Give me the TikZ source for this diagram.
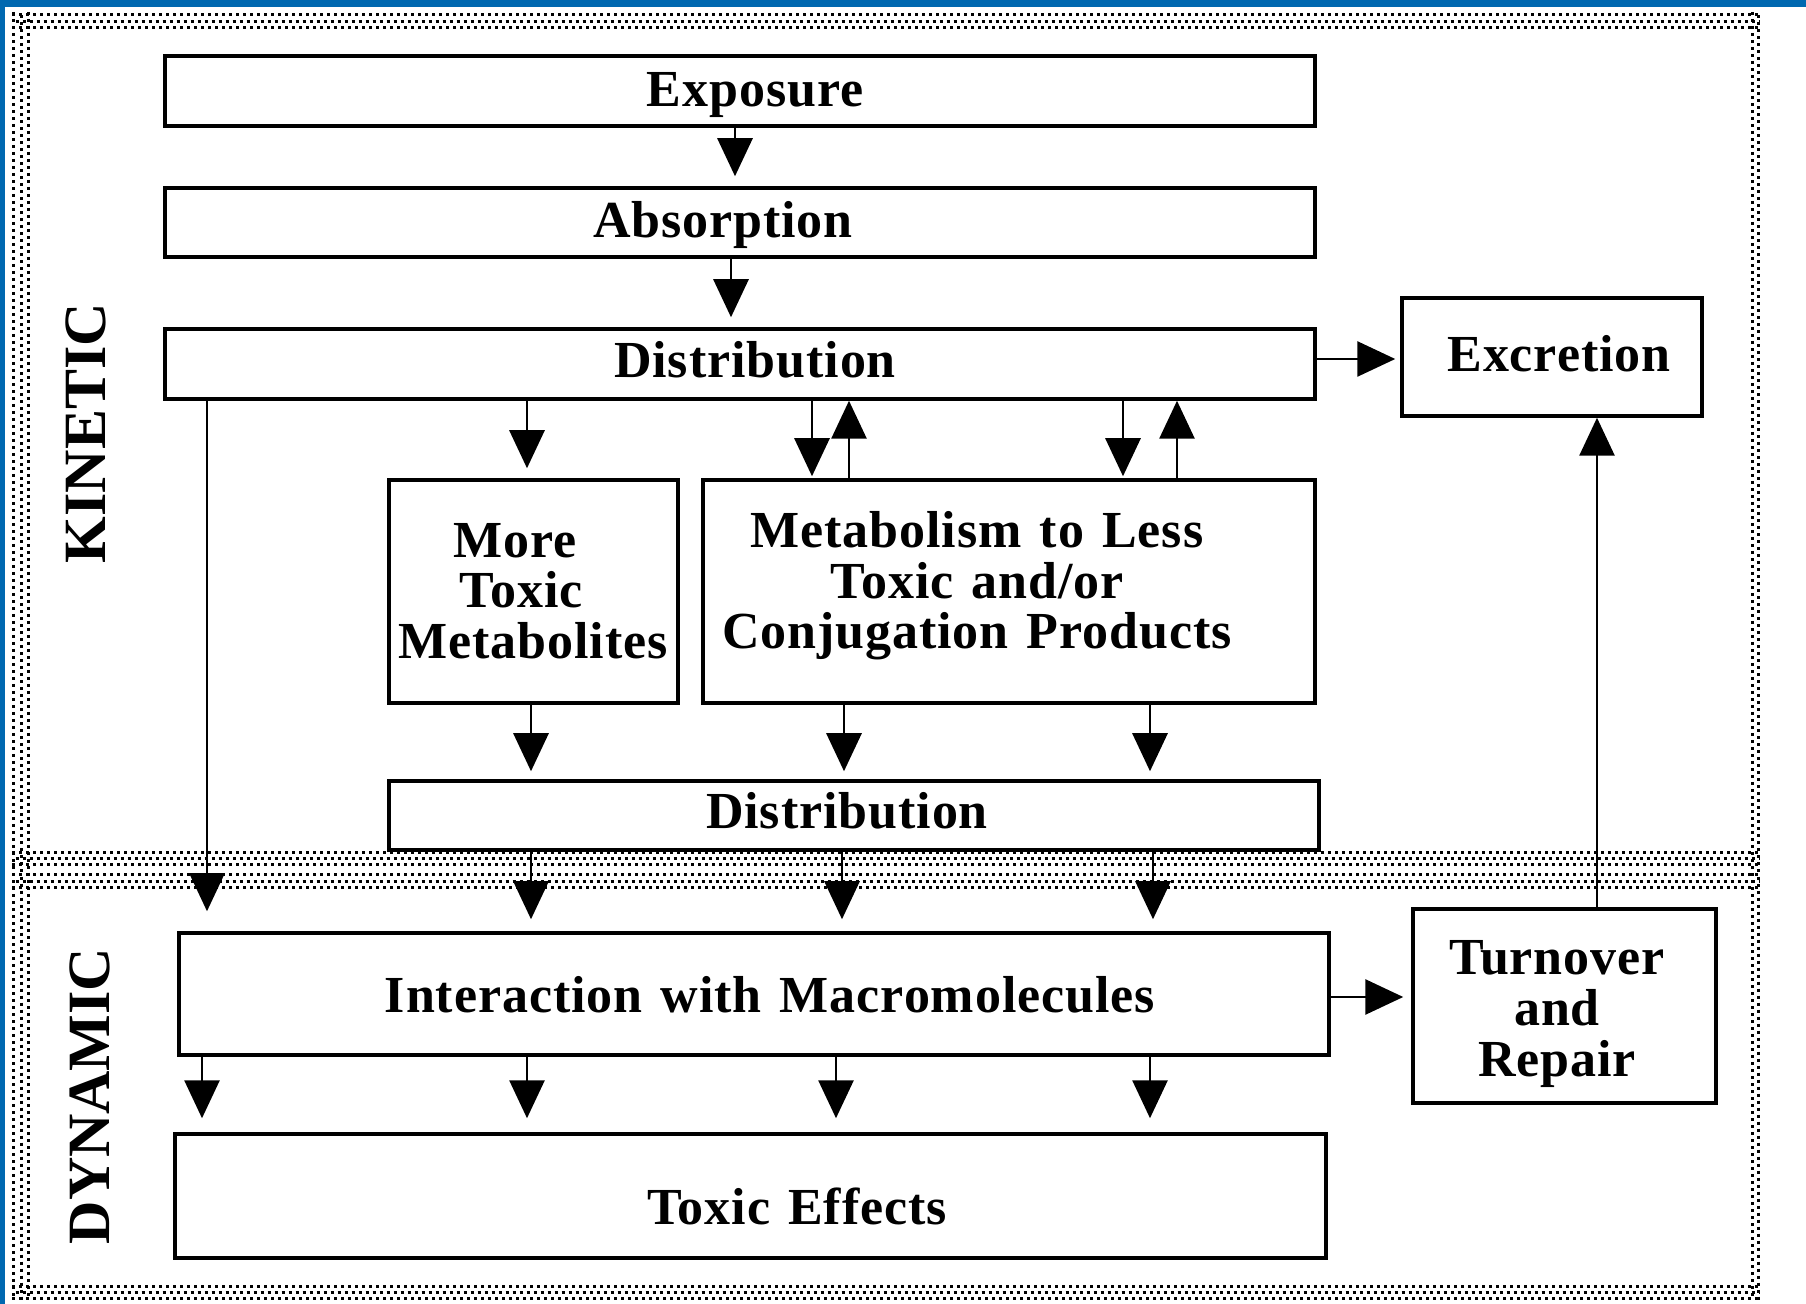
\documentclass[tikz,border=0pt]{standalone}
\usepackage{fontspec}
\setmainfont{Liberation Serif}
\newfontfamily\lblfont[LetterSpace=1.8,WordSpace=1.3]{Liberation Serif}
\usetikzlibrary{arrows.meta}
\definecolor{blueedge}{RGB}{0,104,176}
\newcommand\mkbox[5]{%
  \pgfmathsetmacro\mybw{(#4-#2)/2}%
  \pgfmathsetmacro\mybh{(#5-#3)/2}%
  \node[box, minimum width=\mybw pt, minimum height=\mybh pt] (#1) at ({(#2+#4)/2},{(#3+#5)/2}) {};}
\begin{document}
\begin{tikzpicture}[x=0.5pt,y=-0.5pt,
  box/.style={draw, line width=1.75pt, inner sep=0pt, fill=white},
  lbl/.style={font=\lblfont\fontsize{26}{25.3}\selectfont\bfseries, inner sep=0pt, align=center},
  side/.style={font=\fontsize{30}{30}\selectfont\bfseries, inner sep=0pt, rotate=90},
  arr/.style={line width=1.4pt, -{Triangle[length=19pt,width=17.5pt]}},
  dotrow/.style={line width=1.5pt, dash pattern=on 1.5pt off 2pt},
  dotrowb/.style={dotrow, dash phase=1.75pt}]
\useasboundingbox (0,0) rectangle (1806,1304);
\fill[white] (0,0) rectangle (1806,1304);
\fill[blueedge] (0,0) rectangle (1806,7);
\fill[blueedge] (0,0) rectangle (5,1304);
% dotted frame bands
\foreach \yy in {15,28,853,865,875,888,1286,1298} \draw[dotrow] (12,\yy) -- (1760,\yy);
\foreach \yy in {22,859,882,1292} \draw[dotrowb] (12,\yy) -- (1760,\yy);
\foreach \xx in {13,28,1752} \draw[dotrow] (\xx,12) -- (\xx,1300);
\foreach \xx in {21,1758} \draw[dotrowb] (\xx,12) -- (\xx,1300);
% side labels
\node[side] (kin) at (86,433) {KINETIC};
\node[side] (dyn) at (90,1096) {DYNAMIC};
% boxes
\mkbox{exp}{165}{56}{1315}{126}
\mkbox{abs}{165}{188}{1315}{257}
\mkbox{dist}{165}{329}{1315}{399}
\mkbox{exc}{1402}{298}{1702}{416}
\mkbox{more}{389}{480}{678}{703}
\mkbox{meta}{703}{480}{1315}{703}
\mkbox{dist2}{389}{781}{1319}{850}
\mkbox{inter}{179}{933}{1329}{1055}
\mkbox{turn}{1413}{909}{1716}{1103}
\mkbox{tox}{175}{1134}{1326}{1258}
% texts
\node[lbl, anchor=base] (texp) at (755,107) {Exposure};
\node[lbl, anchor=base] (tabs) at (723,238) {Absorption};
\node[lbl, anchor=base] (tdist) at (755,378) {Distribution};
\node[lbl, anchor=base] (texc) at (1559,372) {Excretion};
\node[lbl] (tmore) at (533,591) {More\rule{18pt}{0pt}\\Toxic\rule{12pt}{0pt}\\Metabolites};
\node[lbl] (tmeta) at (977,586) {Metabolism to Less\\Toxic and/or\\Conjugation Products};
\node[lbl, anchor=base] (tdist2) at (847,829) {Distribution};
\node[lbl, anchor=base] (tinter) at (770,1012) {Interaction with Macromolecules};
\node[lbl] (tturn) at (1557,1014) {Turnover\\and\\Repair};
\node[lbl, anchor=base] (ttox) at (797,1224) {Toxic Effects};
% connectors
\draw[arr, shorten >=5pt] (exp.south -| 735,0) -- (abs.north -| 735,0);
\draw[arr, shorten >=5pt] (abs.south -| 731,0) -- (dist.north -| 731,0);
\draw[arr, shorten >=2.5pt] (dist.east |- 0,359) -- (exc.west |- 0,359);
\draw[arr, shorten >=5pt] (dist.south -| 527,0) -- (more.north -| 527,0);
\draw[arr, shorten >=1pt] (dist.south -| 812,0) -- (meta.north -| 812,0);
\draw[arr] (meta.north -| 849,0) -- (dist.south -| 849,0);
\draw[arr, shorten >=1pt] (dist.south -| 1123,0) -- (meta.north -| 1123,0);
\draw[arr] (meta.north -| 1177,0) -- (dist.south -| 1177,0);
\draw[arr, shorten >=10pt] (dist.south -| 207,0) -- (inter.north -| 207,0);
\draw[arr, shorten >=4pt] (more.south -| 531,0) -- (dist2.north -| 531,0);
\draw[arr, shorten >=4pt] (meta.south -| 844,0) -- (dist2.north -| 844,0);
\draw[arr, shorten >=4pt] (meta.south -| 1150,0) -- (dist2.north -| 1150,0);
\draw[arr, shorten >=6pt] (dist2.south -| 531,0) -- (inter.north -| 531,0);
\draw[arr, shorten >=6pt] (dist2.south -| 842,0) -- (inter.north -| 842,0);
\draw[arr, shorten >=6pt] (dist2.south -| 1153,0) -- (inter.north -| 1153,0);
\draw[arr, shorten >=4pt] (inter.east |- 0,997) -- (turn.west |- 0,997);
\draw[arr] (turn.north -| 1597,0) -- (exc.south -| 1597,0);
\draw[arr, shorten >=7pt] (inter.south -| 202,0) -- (tox.north -| 202,0);
\draw[arr, shorten >=7pt] (inter.south -| 527,0) -- (tox.north -| 527,0);
\draw[arr, shorten >=7pt] (inter.south -| 836,0) -- (tox.north -| 836,0);
\draw[arr, shorten >=7pt] (inter.south -| 1150,0) -- (tox.north -| 1150,0);
\end{tikzpicture}
\end{document}
